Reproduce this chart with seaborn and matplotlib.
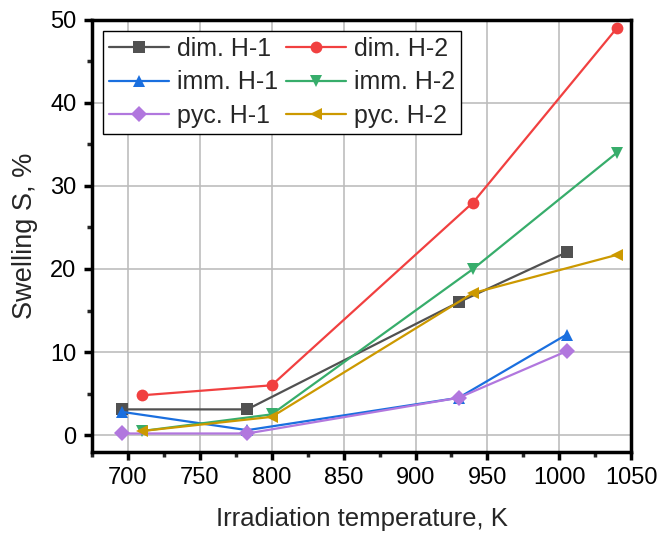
import pandas as pd
import matplotlib.pyplot as plt
import seaborn as sns
from matplotlib.ticker import MultipleLocator

# ---- data ----
T_H1 = [696, 783, 930, 1005]
T_H2 = [710, 800, 940, 1040]

DIM_H1 = [3.1, 3.1, 16.0, 22.0]
DIM_H2 = [4.8, 6.0, 28.0, 49.0]
IMM_H1 = [2.8, 0.6, 4.5, 12.1]
IMM_H2 = [0.5, 2.5, 20.0, 34.0]
PYC_H1 = [0.2, 0.2, 4.5, 10.1]
PYC_H2 = [0.5, 2.2, 17.1, 21.7]

SERIES = ["dim. H-1", "dim. H-2", "imm. H-1", "imm. H-2", "pyc. H-1", "pyc. H-2"]
COLORS = ["#515151", "#F14040", "#1A6FDF", "#37AD6B", "#B177DE", "#CC9900"]
MARKERS = ["s", "o", "^", "v", "D", "<"]

X_LABEL = "Irradiation temperature, K"
Y_LABEL = "Swelling S, %"


def build_frame():
    values = [DIM_H1, DIM_H2, IMM_H1, IMM_H2, PYC_H1, PYC_H2]
    temps = [T_H1, T_H2, T_H1, T_H2, T_H1, T_H2]
    rows = []
    for name, xs, ys in zip(SERIES, temps, values):
        for x, y in zip(xs, ys):
            rows.append({"T": x, "S": y, "series": name})
    return pd.DataFrame(rows)


def main():
    sns.set_style("white")
    plt.rcParams["font.family"] = ["Liberation Sans", "DejaVu Sans"]

    df = build_frame()
    fig = plt.figure(figsize=(6.61, 5.34), dpi=100)
    ax = fig.add_axes([0.139, 0.154, 0.816, 0.809])

    sns.lineplot(
        data=df, x="T", y="S", hue="series", style="series",
        hue_order=SERIES, style_order=SERIES,
        palette=dict(zip(SERIES, COLORS)),
        markers=dict(zip(SERIES, MARKERS)),
        dashes=False, markersize=8.5, markeredgewidth=0, linewidth=1.6,
        ax=ax, sort=False,
    )

    ax.set_xlim(675, 1050)
    ax.set_ylim(-2, 50)
    ax.xaxis.set_major_locator(MultipleLocator(50))
    ax.xaxis.set_minor_locator(MultipleLocator(25))
    ax.yaxis.set_major_locator(MultipleLocator(10))
    ax.yaxis.set_minor_locator(MultipleLocator(5))
    ax.tick_params(which="major", direction="out", length=6, width=2.5,
                   labelsize=17, bottom=True, left=True, colors="black", pad=5)
    ax.tick_params(which="minor", direction="out", length=3.5, width=2.5,
                   bottom=True, left=True)
    ax.grid(True, which="major", color="#bdbdbd", linewidth=1.2)
    ax.set_axisbelow(True)
    for sp in ax.spines.values():
        sp.set_linewidth(2.5)
        sp.set_color("black")

    ax.set_xlabel(X_LABEL, fontsize=18.5, labelpad=13)
    ax.set_ylabel(Y_LABEL, fontsize=19.5, labelpad=9)

    # legend filled row by row, like the original
    handles, labels = ax.get_legend_handles_labels()
    order = [0, 2, 4, 1, 3, 5]
    ax.legend([handles[i] for i in order], [labels[i] for i in order],
              ncol=2, loc="upper left",
              bbox_to_anchor=(0.02, 0.975), fontsize=18, frameon=True,
              fancybox=False, edgecolor="black", framealpha=1,
              handlelength=2.4, handletextpad=0.33, columnspacing=0.3,
              labelspacing=0.38, borderpad=0.25, borderaxespad=0.0)

    fig.savefig("out.png", dpi=100)


if __name__ == "__main__":
    main()
